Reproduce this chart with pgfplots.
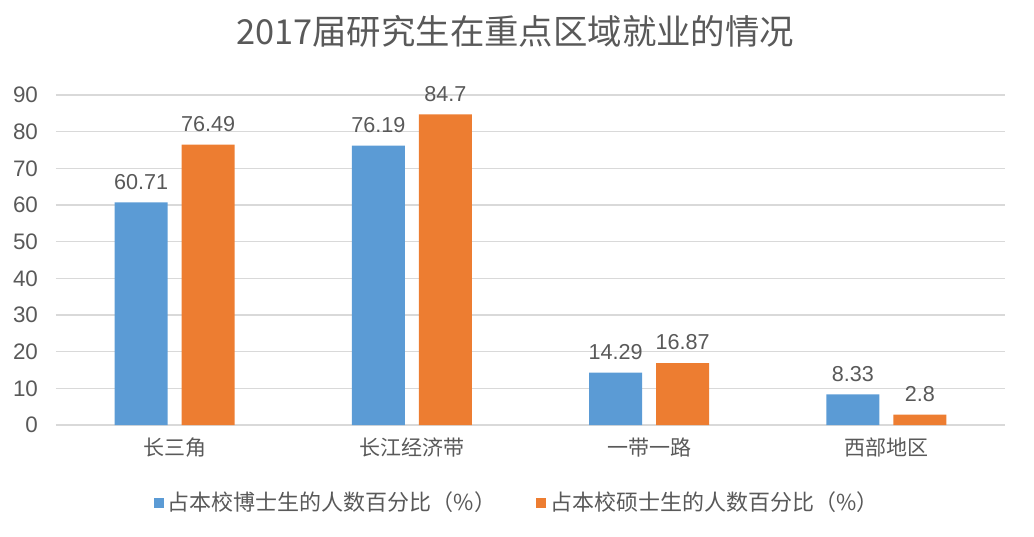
\documentclass[border=0pt]{standalone}
\usepackage{pgfplots}
\pgfplotsset{compat=1.18}
\usepackage{fontspec}
\setmainfont{Liberation Sans}
\newfontfamily\cjk{Noto Sans CJK SC}
\definecolor{sblue}{HTML}{5B9BD5}
\definecolor{sorange}{HTML}{ED7D31}
\definecolor{txt}{HTML}{595959}
\definecolor{gridc}{HTML}{D9D9D9}
\begin{document}
\begin{tikzpicture}
\useasboundingbox (-28pt,-55.5pt) rectangle (489pt,212.5pt);
\begin{axis}[
  at={(0pt,0pt)}, anchor=south west,
  scale only axis,
  width=474.5pt, height=165pt,
  ybar=7pt, bar width=26.5pt,
  xmin=-0.5, xmax=3.5,
  ymin=0, ymax=90,
  ytick={0,10,...,90},
  xtick={0,1,2,3},
  xticklabels={{\cjk 长三角},{\cjk 长江经济带},{\cjk 一带一路},{\cjk 西部地区}},
  xticklabel style={font=\fontsize{10.5}{12}\selectfont, text=txt, yshift=-3pt},
  yticklabel style={font=\fontsize{11.2}{13}\selectfont, text=txt, xshift=-5.5pt},
  /pgf/number format/assume math mode=true,
  major tick length=0pt,
  axis x line*=bottom, axis y line*=left,
  x axis line style={gridc, line width=0.8pt, -},
  y axis line style={draw=none},
  ymajorgrids=true,
  major grid style={gridc, line width=0.8pt},
  nodes near coords,
  nodes near coords style={font=\fontsize{10.8}{12}\selectfont, text=txt, yshift=3pt},
  point meta=explicit symbolic,
  title={\cjk 2017届研究生在重点区域就业的情况},
  title style={at={(axis description cs:0.4837,1)}, anchor=center, yshift=26pt,
    font=\fontsize{17.2}{19}\selectfont, text=txt},
  legend columns=2,
  legend style={at={(axis description cs:0.487,0)}, anchor=center, yshift=-39pt,
    draw=none, font=\fontsize{11}{13}\selectfont, text=txt,
    /tikz/every even column/.append style={column sep=18pt}},
  legend image code/.code={\fill[#1, draw=none] (0pt,-2.5pt) rectangle (5pt,2.5pt);},
]
\addplot[fill=sblue, draw=none] coordinates {(0,60.71)[60.71] (1,76.19)[76.19] (2,14.29)[14.29] (3,8.33)[8.33]};
\addplot[fill=sorange, draw=none] coordinates {(0,76.49)[76.49] (1,84.7)[84.7] (2,16.87)[16.87] (3,2.8)[2.8]};
\legend{{\cjk 占本校博士生的人数百分比（\%）},{\cjk 占本校硕士生的人数百分比（\%）}}
\end{axis}
\end{tikzpicture}
\end{document}
